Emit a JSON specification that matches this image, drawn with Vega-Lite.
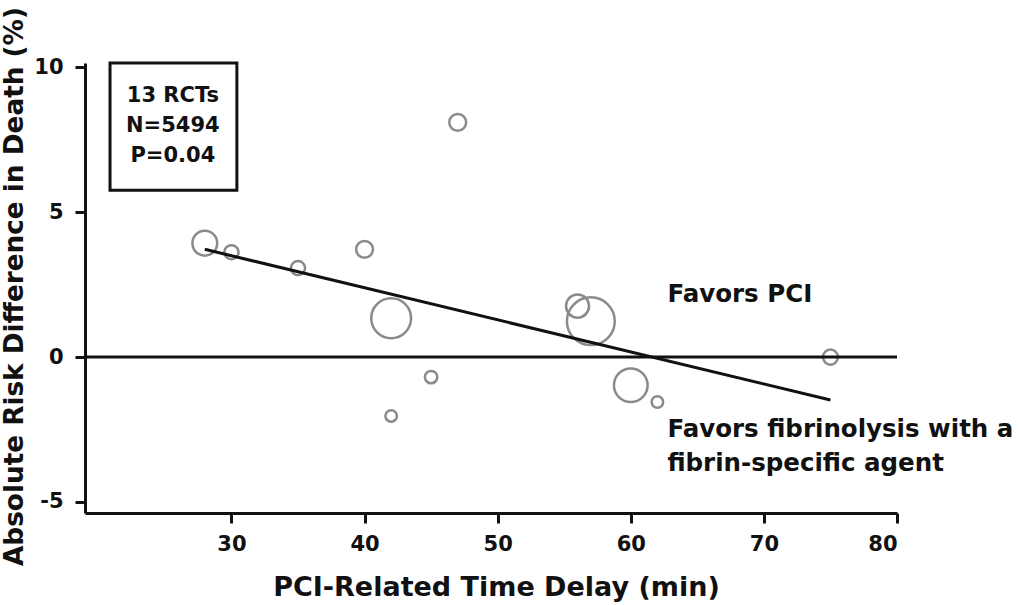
{
  "$schema": "https://vega.github.io/schema/vega-lite/v6.json",
  "width": 812,
  "height": 450,
  "autosize": {"type": "none"},
  "padding": {"left": 85, "top": 63, "right": 123, "bottom": 92},
  "background": "white",
  "data": {"values": [{}]},
  "config": {
    "view": {"stroke": null},
    "font": "DejaVu Sans",
    "axis": {
      "grid": false,
      "domainColor": "#111",
      "domainWidth": 3,
      "tickColor": "#111",
      "tickWidth": 3,
      "tickSize": 10,
      "labelFont": "DejaVu Sans",
      "labelFontWeight": "bold",
      "labelFontSize": 21,
      "labelColor": "#111",
      "titleFont": "DejaVu Sans",
      "titleFontWeight": "bold",
      "titleColor": "#111"
    }
  },
  "datasets": {
    "trials": [
      {"delay": 28, "ard": 3.93, "n": 435},
      {"delay": 30, "ard": 3.62, "n": 142},
      {"delay": 35, "ard": 3.07, "n": 142},
      {"delay": 40, "ard": 3.72, "n": 200},
      {"delay": 42, "ard": 1.34, "n": 1123},
      {"delay": 42, "ard": -2.03, "n": 94},
      {"delay": 45, "ard": -0.69, "n": 109},
      {"delay": 47, "ard": 8.1, "n": 200},
      {"delay": 56, "ard": 1.76, "n": 375},
      {"delay": 57, "ard": 1.24, "n": 1618},
      {"delay": 60, "ard": -0.97, "n": 801},
      {"delay": 62, "ard": -1.55, "n": 94},
      {"delay": 75, "ard": 0, "n": 160}
    ],
    "fit": [
      {"delay": 28, "ard": 3.72},
      {"delay": 75, "ard": -1.48}
    ]
  },
  "layer": [
    {
      "data": {"name": "trials"},
      "mark": {"type": "point", "shape": "circle", "filled": false, "stroke": "#8a8a8a", "strokeWidth": 2.5, "opacity": 1},
      "encoding": {
        "x": {
          "field": "delay", "type": "quantitative",
          "scale": {"domain": [19, 80], "nice": false, "zero": false},
          "axis": {
            "values": [30, 40, 50, 60, 70, 80],
            "labelPadding": 10,
            "title": "PCI-Related Time Delay (min)",
            "titleFontSize": 27,
            "titleX": 411,
            "titleY": 74,
            "titleBaseline": "middle",
            "titleAlign": "center"
          }
        },
        "y": {
          "field": "ard", "type": "quantitative",
          "scale": {"domain": [-5.38, 10.15], "nice": false, "zero": false},
          "axis": {
            "values": [-5, 0, 5, 10],
            "labelPadding": 12,
            "labelExpr": "replace(datum.label, '−', '-')",
            "title": "Absolute Risk Difference in Death (%)",
            "titleFontSize": 26.3,
            "titleX": -71,
            "titleY": 223,
            "titleBaseline": "middle",
            "titleAlign": "center"
          }
        },
        "size": {
          "field": "n", "type": "quantitative",
          "scale": {"domain": [0, 1000], "range": [0, 1415]},
          "legend": null
        }
      }
    },
    {
      "mark": {"type": "rule", "color": "#111", "strokeWidth": 3},
      "encoding": {"y": {"datum": 0, "type": "quantitative"}}
    },
    {
      "data": {"name": "fit"},
      "mark": {"type": "line", "color": "#111", "strokeWidth": 3},
      "encoding": {
        "x": {"field": "delay", "type": "quantitative"},
        "y": {"field": "ard", "type": "quantitative"}
      }
    },
    {
      "mark": {"type": "rect", "fill": null, "fillOpacity": 0, "stroke": "#111", "strokeWidth": 3},
      "encoding": {
        "x": {"datum": 20.88, "type": "quantitative"},
        "x2": {"datum": 30.41},
        "y": {"datum": 10.15, "type": "quantitative"},
        "y2": {"datum": 5.76}
      }
    },
    {
      "mark": {"type": "text", "text": ["13 RCTs", "N=5494", "P=0.04"], "fontSize": 21, "fontWeight": "bold", "color": "#111", "align": "center", "baseline": "middle", "lineHeight": 30},
      "encoding": {
        "x": {"datum": 25.6, "type": "quantitative"},
        "y": {"datum": 9.01, "type": "quantitative"}
      }
    },
    {
      "mark": {"type": "text", "text": "Favors PCI", "fontSize": 24.5, "fontWeight": "bold", "color": "#111", "align": "left", "baseline": "middle"},
      "encoding": {
        "x": {"datum": 62.75, "type": "quantitative"},
        "y": {"datum": 2.14, "type": "quantitative"}
      }
    },
    {
      "mark": {"type": "text", "text": ["Favors fibrinolysis with a", "fibrin-specific agent"], "fontSize": 24.5, "fontWeight": "bold", "color": "#111", "align": "left", "baseline": "middle", "lineHeight": 34},
      "encoding": {
        "x": {"datum": 62.75, "type": "quantitative"},
        "y": {"datum": -2.52, "type": "quantitative"}
      }
    }
  ]
}
